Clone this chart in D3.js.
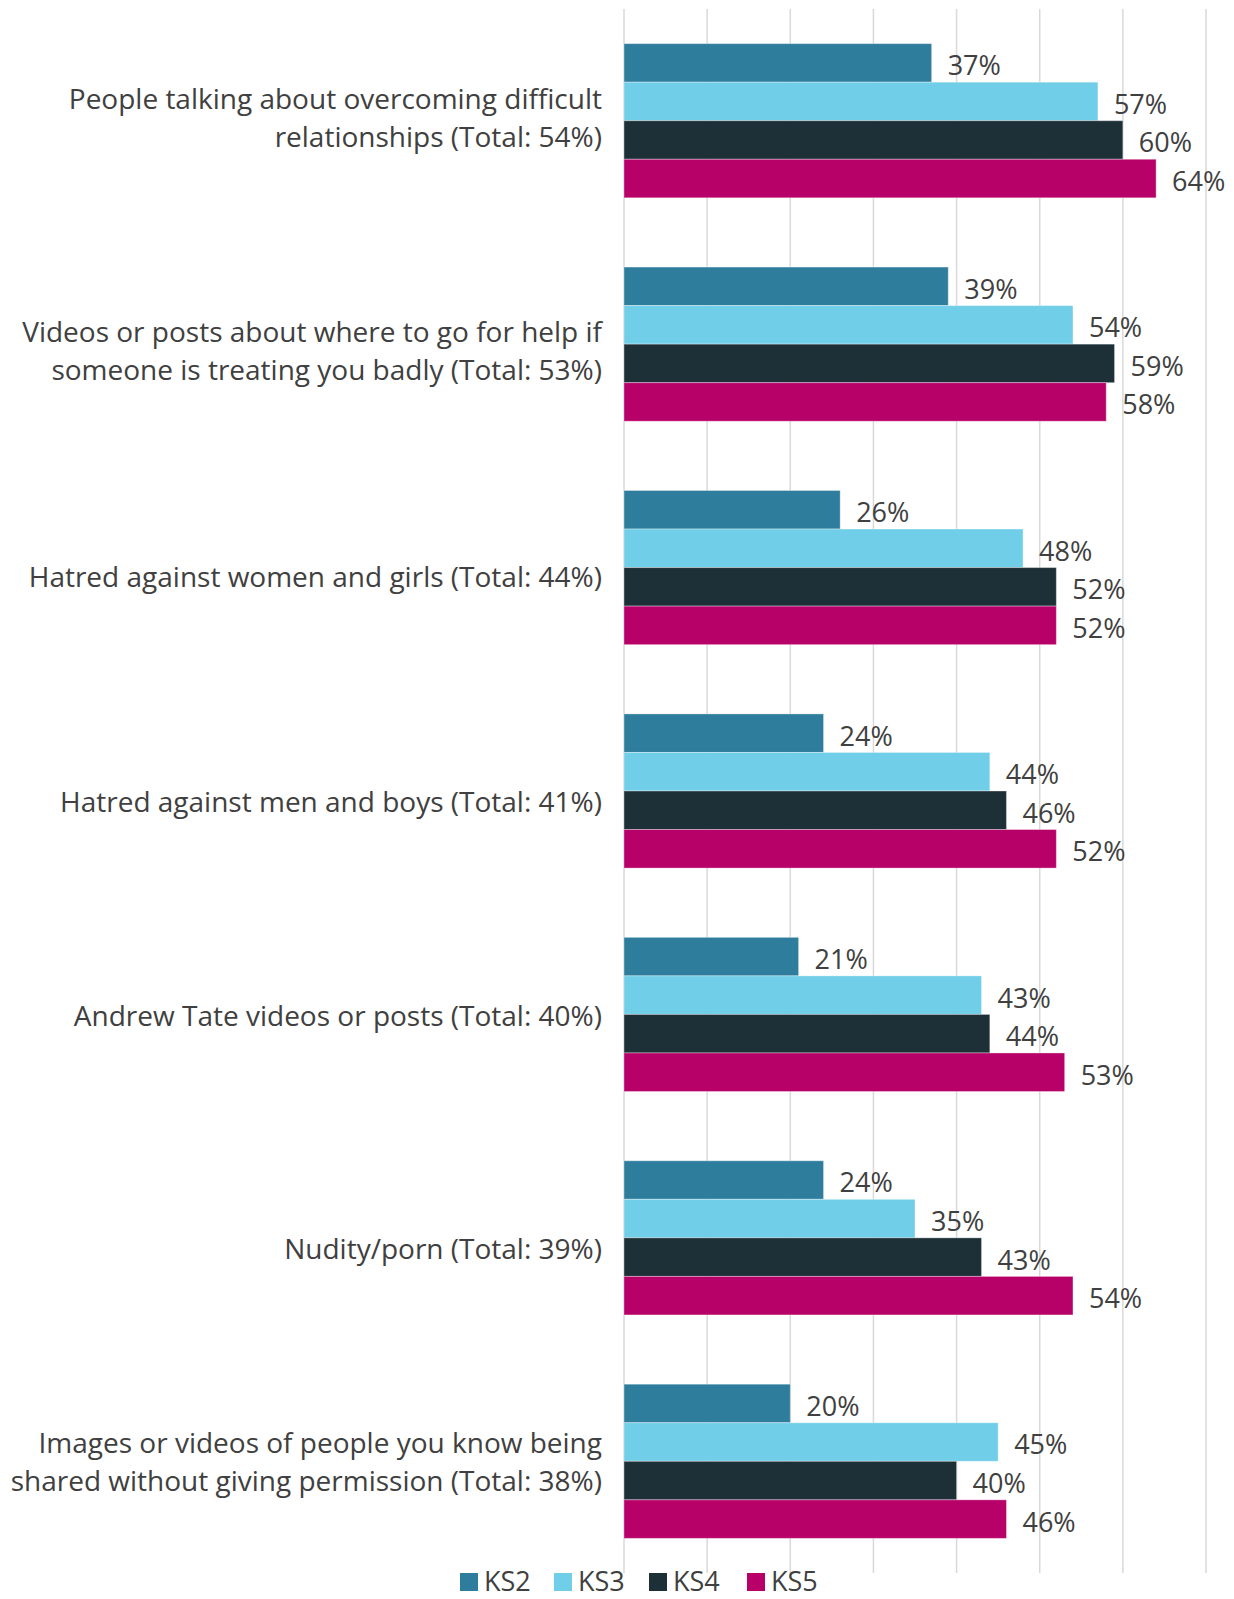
<!DOCTYPE html>
<meta charset="utf-8">
<style>
  body { margin: 0; background: #fff; font-family: "Open Sans", sans-serif; }
  .grid line { stroke: #d9d9d9; stroke-width: 1.5px; }
  .cat text, .val, .legend text { fill: #404040; }
</style>
<body>
<div id="chart"></div>
<script src="https://cdn.jsdelivr.net/npm/d3@7"></script>
<script>

  // categories (each split into display lines)
  var categories = [
    ["People talking about overcoming difficult", "relationships (Total: 54%)"],
    ["Videos or posts about where to go for help if", "someone is treating you badly (Total: 53%)"],
    ["Hatred against women and girls (Total: 44%)"],
    ["Hatred against men and boys (Total: 41%)"],
    ["Andrew Tate videos or posts (Total: 40%)"],
    ["Nudity/porn (Total: 39%)"],
    ["Images or videos of people you know being", "shared without giving permission (Total: 38%)"]
  ];

  var seriesNames = ["KS2", "KS3", "KS4", "KS5"];

  var ks2 = [37, 39, 26, 24, 21, 24, 20];
  var ks3 = [57, 54, 48, 44, 43, 35, 45];
  var ks4 = [60, 59, 52, 46, 44, 43, 40];
  var ks5 = [64, 58, 52, 52, 53, 54, 46];

  var gridTicks = [0, 10, 20, 30, 40, 50, 60, 70];

  var colors = ["#2e7d9c", "#71cee8", "#1d2f37", "#b70068"];

  // the original's category labels don't sit exactly centred on their groups
  var labelNudge = [-1, 9, 12, 13, 4, 13, 3];

  var width = 1234, height = 1599;
  var margin = {top: 9, left: 624, right: 28, bottom: 26};

  var svg = d3.select("#chart").append("svg")
      .attr("width", width)
      .attr("height", height);

  var x = d3.scaleLinear().domain([0, 70])
      .range([margin.left, width - margin.right]);

  var y = d3.scaleBand().domain(d3.range(categories.length))
      .range([margin.top, height - margin.bottom])
      .paddingInner(0.31).paddingOuter(0.155);

  var ySub = d3.scaleBand().domain(seriesNames)
      .range([0, y.bandwidth()]);

  // gridlines
  svg.append("g").attr("class", "grid")
    .selectAll("line").data(gridTicks).enter().append("line")
      .attr("x1", function(d) { return x(d); })
      .attr("x2", function(d) { return x(d); })
      .attr("y1", margin.top)
      .attr("y2", height - margin.bottom);

  var allSeries = [ks2, ks3, ks4, ks5];
  var rows = [];
  categories.forEach(function(c, i) {
    seriesNames.forEach(function(s, j) {
      rows.push({cat: i, series: s, idx: j, value: allSeries[j][i]});
    });
  });

  var bars = svg.append("g");
  bars.selectAll("rect").data(rows).enter().append("rect")
      .attr("x", x(0))
      .attr("y", function(d) { return y(d.cat) + ySub(d.series); })
      .attr("width", function(d) { return x(d.value) - x(0); })
      .attr("height", ySub.bandwidth())
      .attr("fill", function(d) { return colors[d.idx]; })
      .attr("stroke", "#fff")
      .attr("stroke-opacity", 0.35)
      .attr("stroke-width", 1);

  // value labels
  bars.selectAll("text").data(rows).enter().append("text")
      .attr("class", "val")
      .attr("x", function(d) { return x(d.value) + 16; })
      .attr("y", function(d) { return y(d.cat) + ySub(d.series) + ySub.bandwidth() / 2 + 3; })
      .attr("dy", "0.35em")
      .style("font-size", "27px")
      .text(function(d) { return d.value + "%"; });

  // category labels
  var cat = svg.append("g").attr("class", "cat");
  categories.forEach(function(lines, i) {
    var cy = y(i) + y.bandwidth() / 2 - 2 + labelNudge[i];
    var lh = 38;
    var t = cat.append("text")
        .attr("text-anchor", "end")
        .style("font-size", "28px");
    lines.forEach(function(l, k) {
      t.append("tspan")
        .attr("x", margin.left - 22)
        .attr("y", cy + (k - (lines.length - 1) / 2) * lh)
        .attr("dy", "0.35em")
        .text(l);
    });
  });

  // legend
  var legendX = [460, 554, 649, 747];
  var legend = svg.append("g").attr("class", "legend");
  var li = legend.selectAll("g").data(seriesNames).enter().append("g")
      .attr("transform", function(d, i) { return "translate(" + legendX[i] + "," + 1582 + ")"; });
  li.append("rect")
      .attr("y", -9).attr("width", 18).attr("height", 18)
      .attr("fill", function(d, i) { return colors[i]; });
  li.append("text")
      .attr("x", 24).attr("dy", "0.35em")
      .style("font-size", "27px")
      .text(function(d) { return d; });

</script>
</body>
